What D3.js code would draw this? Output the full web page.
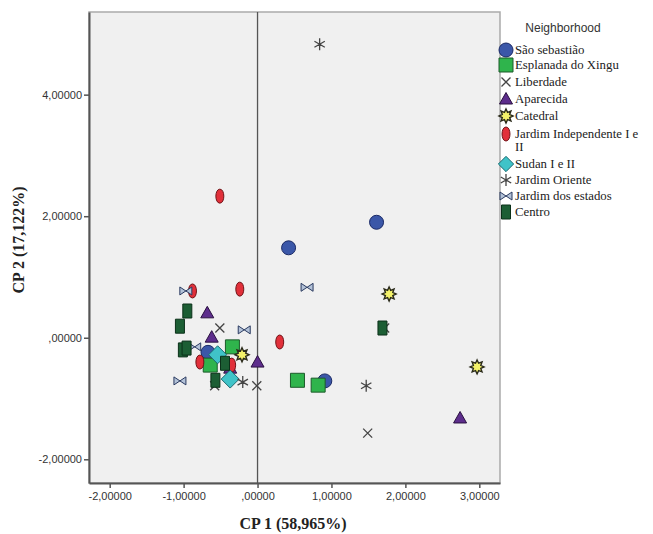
<!DOCTYPE html>
<html>
<head>
<meta charset="utf-8">
<script src="https://cdn.jsdelivr.net/npm/d3@7"></script>
<style>
body { margin: 0; background: #fff; }
</style>
</head>
<body>
<script>
var width = 653;
var height = 534;

// neighborhoods in legend order
var neighborhoods = ["São sebastião", "Esplanada do Xingu", "Liberdade", "Aparecida", "Catedral",
    "Jardim Independente I e II", "Sudan I e II", "Jardim Oriente", "Jardim dos estados", "Centro"];

// component scores per neighborhood: [CP1, CP2]
var saoSebastiao = [[1.61, 1.90], [0.42, 1.48], [0.91, -0.71], [-0.67, -0.24]];
var esplanada = [[0.54, -0.70], [0.82, -0.78], [-0.34, -0.15], [-0.64, -0.45]];
var liberdade = [[1.72, 0.16], [1.49, -1.57], [-0.51, 0.16], [-0.01, -0.79], [-0.58, -0.79]];
var aparecida = [[2.74, -1.32], [0.0, -0.40], [-0.68, 0.41], [-0.62, 0.01], [-0.37, -0.50]];
var catedral = [[1.78, 0.72], [2.97, -0.48], [-0.21, -0.28]];
var jardimIndependente = [[-0.51, 2.33], [-0.24, 0.80], [0.30, -0.07], [-0.88, 0.77], [-0.78, -0.40], [-0.35, -0.45]];
var sudan = [[-0.54, -0.28], [-0.37, -0.68]];
var jardimOriente = [[0.84, 4.83], [1.47, -0.79], [-0.20, -0.73]];
var jardimEstados = [[-0.97, 0.77], [0.67, 0.83], [-0.18, 0.13], [-1.05, -0.71], [-0.85, -0.15]];
var centro = [[-0.95, 0.44], [-1.05, 0.19], [-1.01, -0.20], [-0.96, -0.17], [-0.44, -0.42], [-0.57, -0.70], [1.69, 0.16]];

var xTicks = [-2, -1, 0, 1, 2, 3];
var xTickLabels = ["-2,00000", "-1,00000", ",00000", "1,00000", "2,00000", "3,00000"];
var yTicks = [-2, 0, 2, 4];
var yTickLabels = ["-2,00000", ",00000", "2,00000", "4,00000"];

var series = [saoSebastiao, esplanada, liberdade, aparecida, catedral,
    jardimIndependente, sudan, jardimOriente, jardimEstados, centro];

// marker styles
var styles = [
    {shape: "circle", fill: "#3b57a8", stroke: "#1b2a66"},
    {shape: "square", fill: "#2fb44c", stroke: "#1c5a2a"},
    {shape: "x", fill: "none", stroke: "#444"},
    {shape: "triangle", fill: "#5d2d8c", stroke: "#2a1040"},
    {shape: "sun", fill: "#f4f26a", stroke: "#2a2a1a"},
    {shape: "ellipse", fill: "#e1303a", stroke: "#701418"},
    {shape: "diamond", fill: "#40c3c8", stroke: "#1b6a70"},
    {shape: "asterisk", fill: "none", stroke: "#444"},
    {shape: "bowtie", fill: "#b3c2d8", stroke: "#2a3a60"},
    {shape: "rect", fill: "#1c5e34", stroke: "#0b3019"}
];

function strokeW(shape) {
    if (shape == "x" || shape == "asterisk") return 1.3;
    if (shape == "sun") return 1.4;
    return 1;
}

function shapePath(shape, s) {
    var p = d3.path();
    var r, i, a;
    if (shape == "circle") {
        p.arc(0, 0, 7 * s, 0, 2 * Math.PI);
    } else if (shape == "square") {
        p.rect(-7 * s, -7 * s, 14 * s, 14 * s);
    } else if (shape == "x") {
        r = 4.5 * s;
        p.moveTo(-r, -r); p.lineTo(r, r);
        p.moveTo(r, -r); p.lineTo(-r, r);
    } else if (shape == "triangle") {
        p.moveTo(0, -6.5 * s); p.lineTo(6.5 * s, 5 * s); p.lineTo(-6.5 * s, 5 * s); p.closePath();
    } else if (shape == "sun") {
        for (i = 0; i < 16; i++) {
            a = i * Math.PI / 8 - Math.PI / 2;
            r = (i % 2 == 0 ? 7 : 4) * s;
            if (i == 0) p.moveTo(r * Math.cos(a), r * Math.sin(a));
            else p.lineTo(r * Math.cos(a), r * Math.sin(a));
        }
        p.closePath();
    } else if (shape == "ellipse") {
        p.moveTo(0, -7 * s);
        p.bezierCurveTo(5.3 * s, -7 * s, 5.3 * s, 7 * s, 0, 7 * s);
        p.bezierCurveTo(-5.3 * s, 7 * s, -5.3 * s, -7 * s, 0, -7 * s);
    } else if (shape == "diamond") {
        p.moveTo(0, -9 * s); p.lineTo(9 * s, 0); p.lineTo(0, 9 * s); p.lineTo(-9 * s, 0); p.closePath();
    } else if (shape == "asterisk") {
        r = 6 * s;
        for (i = 0; i < 6; i++) {
            a = i * Math.PI / 3 - Math.PI / 2;
            p.moveTo(0, 0); p.lineTo(r * Math.cos(a), r * Math.sin(a));
        }
    } else if (shape == "bowtie") {
        p.moveTo(-6 * s, -4 * s); p.lineTo(6 * s, 4 * s); p.lineTo(6 * s, -4 * s); p.lineTo(-6 * s, 4 * s); p.closePath();
    } else if (shape == "rect") {
        p.rect(-4.5 * s, -7 * s, 9 * s, 14 * s);
    }
    return p.toString();
}

var margin = {left: 89, right: 500, top: 12, bottom: 483};

var x = d3.scaleLinear().domain([-2.28, 3.28]).range([margin.left, margin.right]);
var y = d3.scaleLinear().domain([-2.39, 5.36]).range([margin.bottom, margin.top]);

var svg = d3.select("body").append("svg").attr("width", width).attr("height", height);

// plot background
svg.append("rect").attr("x", margin.left).attr("y", margin.top)
    .attr("width", margin.right - margin.left).attr("height", margin.bottom - margin.top)
    .attr("fill", "#f0f0f0").attr("stroke", "#aaa").attr("stroke-width", 1.5);

// reference line at CP1 = 0
svg.append("line").attr("x1", x(0)).attr("x2", x(0)).attr("y1", margin.top).attr("y2", margin.bottom)
    .attr("stroke", "#555").attr("stroke-width", 1.3);

var xAxis = d3.axisBottom(x).tickValues(xTicks).tickSize(5).tickPadding(4).tickSizeOuter(0)
    .tickFormat(function (d, i) { return xTickLabels[i]; });
var gx = svg.append("g").attr("transform", "translate(0," + margin.bottom + ")").call(xAxis);
gx.select(".domain").attr("stroke", "#555").attr("stroke-width", 2);
gx.selectAll(".tick line").attr("stroke", "#555").attr("stroke-width", 1.5);
gx.selectAll(".tick text").attr("font-family", "Liberation Sans, Arial, sans-serif")
    .attr("font-size", "11px").attr("fill", "#333");

var yAxis = d3.axisLeft(y).tickValues(yTicks).tickSize(5).tickPadding(2).tickSizeOuter(0)
    .tickFormat(function (d, i) { return yTickLabels[i]; });
var gy = svg.append("g").attr("transform", "translate(" + margin.left + ",0)").call(yAxis);
gy.select(".domain").attr("stroke", "#555").attr("stroke-width", 2);
gy.selectAll(".tick line").attr("stroke", "#555").attr("stroke-width", 1.5);
gy.selectAll(".tick text").attr("font-family", "Liberation Sans, Arial, sans-serif")
    .attr("font-size", "11px").attr("fill", "#333");

// points
series.forEach(function (pts, k) {
    var st = styles[k];
    svg.append("g").selectAll("path").data(pts).enter().append("path")
        .attr("d", shapePath(st.shape, 1))
        .attr("transform", function (d) { return "translate(" + x(d[0]) + "," + y(d[1]) + ")"; })
        .attr("fill", st.fill).attr("stroke", st.stroke)
        .attr("stroke-width", strokeW(st.shape));
});

// axis titles
svg.append("text").text("CP 1 (58,965%)").attr("x", 293).attr("y", 529)
    .attr("text-anchor", "middle").attr("font-family", "Liberation Serif, Times New Roman, serif")
    .attr("font-size", "16px").attr("font-weight", "bold").attr("fill", "#222");

svg.append("text").text("CP 2 (17,122%)")
    .attr("transform", "translate(24,240) rotate(-90)")
    .attr("text-anchor", "middle").attr("font-family", "Liberation Serif, Times New Roman, serif")
    .attr("font-size", "16px").attr("font-weight", "bold").attr("fill", "#222");

// legend
var legend = svg.append("g");
legend.append("text").text("Neighborhood").attr("x", 563).attr("y", 32)
    .attr("text-anchor", "middle").attr("font-family", "Liberation Sans, Arial, sans-serif")
    .attr("font-size", "12px").attr("fill", "#333");

var legendY = [50, 65, 82, 99, 116, 134, 164, 180, 196, 212];
neighborhoods.forEach(function (name, k) {
    var st = styles[k];
    var ly = legendY[k];
    legend.append("path").attr("d", shapePath(st.shape, st.shape == "diamond" ? 0.85 : 1))
        .attr("transform", "translate(506," + ly + ")")
        .attr("fill", st.fill).attr("stroke", st.stroke)
        .attr("stroke-width", strokeW(st.shape));
    var lines = name == "Jardim Independente I e II" ? ["Jardim Independente I e", "II"] : [name];
    lines.forEach(function (line, j) {
        legend.append("text").text(line).attr("x", 515).attr("y", ly + 4 + j * 13)
            .attr("font-family", "Liberation Serif, Times New Roman, serif")
            .attr("font-size", "12.8px").attr("fill", "#222");
    });
});
</script>
</body>
</html>
